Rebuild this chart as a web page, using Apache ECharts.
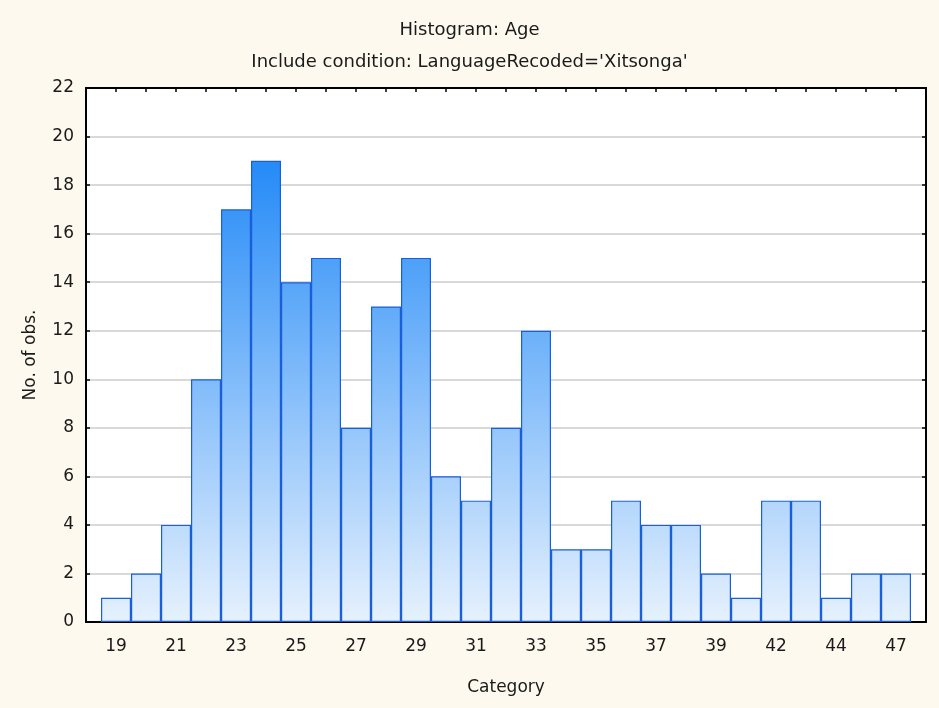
<!DOCTYPE html>
<html>
<head>
<meta charset="utf-8">
<script src="https://cdn.jsdelivr.net/npm/echarts@6/dist/echarts.min.js"></script>
<style>
html,body{margin:0;padding:0;background:#fdf9ef;}
#chart{width:939px;height:708px;}
</style>
</head>
<body>
<div id="chart"></div>
<script>
// Age categories (one bar each) and observed counts
const categories = ['19','20','21','22','23','24','25','26','27','28','29','30','31','32','33','34','35','36','37','38','39','40','42','43','44','45','47'];
const counts = [1,2,4,10,17,19,14,15,8,13,15,6,5,8,12,3,3,5,4,4,2,1,5,5,1,2,2];
const yTicks = [0,2,4,6,8,10,12,14,16,18,20,22];

const FONT = 'DejaVu Sans';
const chart = echarts.init(document.getElementById('chart'), null, {renderer:'canvas'});

const barData = counts.map((v, i) => [i + 1, v]);
const xMax = categories.length + 1;

const frameAxisX = {
  type: 'value', min: 0, max: xMax, interval: 1,
  axisLine: {show: true, onZero: false, lineStyle: {color: '#000', width: 2}},
  axisTick: {show: true, inside: true, length: 4, lineStyle: {color: '#000', width: 1.5}},
  splitLine: {show: false}
};
const frameAxisY = {
  type: 'value', min: yTicks[0], max: yTicks[yTicks.length - 1], interval: yTicks[1] - yTicks[0],
  axisLine: {show: true, onZero: false, lineStyle: {color: '#000', width: 2}},
  axisTick: {show: true, inside: true, length: 4, lineStyle: {color: '#000', width: 1.5}}
};

chart.setOption({
  backgroundColor: '#fdf9ef',
  animation: false,
  textStyle: {fontFamily: FONT},
  title: [
    {text: 'Histogram: Age', left: 'center', top: 21, padding: 0,
     textStyle: {fontFamily: FONT, fontSize: 18, fontWeight: 'normal', color: '#1a1a1a'}},
    {text: "Include condition: LanguageRecoded='Xitsonga'", left: 'center', top: 53, padding: 0,
     textStyle: {fontFamily: FONT, fontSize: 18, fontWeight: 'normal', color: '#1a1a1a'}}
  ],
  grid: {left: 86, right: 13, top: 88, bottom: 86, show: true, backgroundColor: '#ffffff', borderWidth: 0, containLabel: false},
  xAxis: [
    Object.assign({}, frameAxisX, {
      position: 'bottom',
      name: 'Category', nameLocation: 'middle', nameGap: 57,
      nameTextStyle: {fontFamily: FONT, fontSize: 17, color: '#1a1a1a'},
      axisLabel: {
        show: true, margin: 16, fontFamily: FONT, fontSize: 17, color: '#1a1a1a',
        showMinLabel: true, showMaxLabel: true,
        formatter: function (v) {
          const i = Math.round(v);
          if (i >= 1 && i <= categories.length && i % 2 === 1) return categories[i - 1];
          return '';
        }
      }
    }),
    Object.assign({}, frameAxisX, {position: 'top', axisLabel: {show: false}})
  ],
  yAxis: [
    Object.assign({}, frameAxisY, {
      position: 'left',
      name: 'No. of obs.', nameLocation: 'middle', nameGap: 47, nameRotate: 90,
      nameTextStyle: {fontFamily: FONT, fontSize: 17, color: '#1a1a1a'},
      axisLabel: {show: true, margin: 12, fontFamily: FONT, fontSize: 17, color: '#1a1a1a'},
      splitLine: {show: true, lineStyle: {color: '#d9d9d9', width: 2}}
    }),
    Object.assign({}, frameAxisY, {position: 'right', axisLabel: {show: false}, splitLine: {show: false}})
  ],
  series: [{
    type: 'bar',
    xAxisIndex: 0, yAxisIndex: 0,
    barWidth: 30,
    data: barData,
    itemStyle: {
      color: new echarts.graphic.LinearGradient(0, 150, 0, 622, [
        {offset: 0, color: '#2088f7'},
        {offset: 1, color: '#e6f1fd'}
      ], true),
      borderColor: '#1a5fda',
      borderWidth: 1.2
    },
    emphasis: {disabled: true}
  }]
});
</script>
</body>
</html>
